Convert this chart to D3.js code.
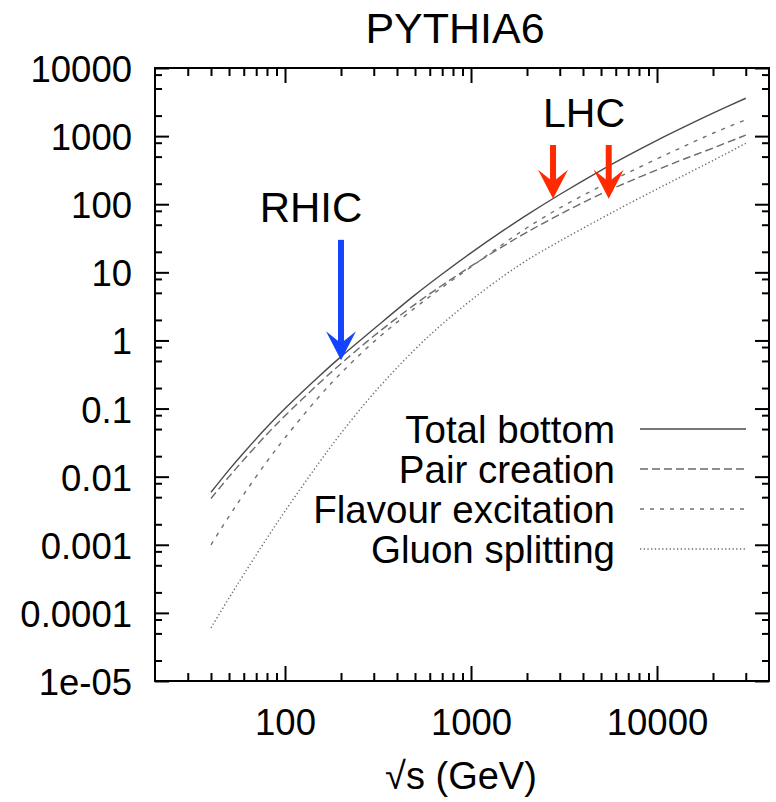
<!DOCTYPE html>
<html>
<head>
<meta charset="utf-8">
<script src="https://cdn.jsdelivr.net/npm/d3@7/dist/d3.min.js"></script>
<style>
  html, body { margin: 0; padding: 0; background: #fff; }
  svg { display: block; }
  text { font-family: "Liberation Sans", Arial, Helvetica, sans-serif; fill: #000; }
</style>
</head>
<body>
<svg id="chart" width="776" height="802"></svg>
<script>
// ---- data ----
const sqrtS = [40, 50, 60, 80, 100, 150, 200, 300, 500, 700, 1000, 1500, 2000, 3000, 5000, 7000, 10000, 14000, 20000, 30000];
const totalBottom = [0.0059, 0.0126, 0.0225, 0.0535, 0.100, 0.286, 0.579, 1.47, 4.66, 9.44, 19.3, 41.6, 69.8, 139, 315, 521, 865, 1361, 2168, 3597];
const pairCreation = [0.00479, 0.0100, 0.0177, 0.0421, 0.0785, 0.225, 0.456, 1.16, 3.39, 6.46, 12.3, 24.5, 38.9, 70.8, 142, 213, 320, 461, 668, 1035];
const flavourExcitation = [0.00100, 0.00261, 0.00551, 0.0167, 0.0372, 0.142, 0.332, 0.953, 3.01, 6.0, 12.0, 26.5, 45.1, 88.1, 185, 291, 462, 710, 1102, 1738];
const gluonSplitting = [0.0000604, 0.000165, 0.000367, 0.00125, 0.00312, 0.0151, 0.0433, 0.168, 0.741, 1.74, 3.89, 8.9, 15.1, 28.7, 61.8, 101, 167, 267, 438, 783];

const seriesNames = ["Total bottom", "Pair creation", "Flavour excitation", "Gluon splitting"];

const xTicks = [100, 1000, 10000];
const xTickLabels = ["100", "1000", "10000"];
const yTicks = [1e-5, 1e-4, 1e-3, 1e-2, 1e-1, 1, 10, 100, 1000, 10000];
const yTickLabels = ["1e-05", "0.0001", "0.001", "0.01", "0.1", "1", "10", "100", "1000", "10000"];

// annotations: collider energies (GeV) and arrow tip / tail heights in cross-section units
const rhicEnergies = [200];
const lhcEnergies = [2760, 5500];
const rhicArrow = { tip: 0.51, tail: 30 };
const lhcArrow = { tip: 120, tail: 740 };

const titleText = "PYTHIA6";
const xLabel = "\u221As (GeV)";

// ---- layout ----
const svg = d3.select("#chart");
const L = 155, R = 769, T = 68, B = 681;
const x = d3.scaleLog().domain([20, 40000]).range([L, R]);
const y = d3.scaleLog().domain([1e-5, 1e4]).range([B, T]);

// minor ticks
const xMinor = [];
[10, 100, 1000, 10000].forEach(d => { for (let k = 2; k <= 9; k++) { const v = d * k; if (v > 20 && v < 40000 && !xTicks.includes(v)) xMinor.push(v); } });
const yMinor = [];
yTicks.forEach(d => { [2, 5, 8].forEach(k => { const v = d * k; if (v < 1e4) yMinor.push(v); }); });

function styleAxis(g) {
  g.select(".domain").remove();
  g.selectAll("line").attr("stroke", "#000").attr("stroke-width", 2);
}
const fontFam = "'Liberation Sans', Arial, sans-serif";

// bottom
svg.append("g").attr("transform", `translate(0,${B})`)
  .call(d3.axisBottom(x).tickValues(xTicks).tickSize(-15).tickFormat((d, i) => xTickLabels[i]))
  .call(styleAxis)
  .call(g => g.selectAll("text").attr("y", 54).attr("dy", 0).attr("font-size", 36.5).style("font-family", fontFam).attr("fill", "#000"));
svg.append("g").attr("transform", `translate(0,${B})`)
  .call(d3.axisBottom(x).tickValues(xMinor).tickSize(-8).tickFormat(""))
  .call(styleAxis);
// top
svg.append("g").attr("transform", `translate(0,${T})`)
  .call(d3.axisTop(x).tickValues(xTicks).tickSize(-15).tickFormat(""))
  .call(styleAxis);
svg.append("g").attr("transform", `translate(0,${T})`)
  .call(d3.axisTop(x).tickValues(xMinor).tickSize(-8).tickFormat(""))
  .call(styleAxis);
// left
svg.append("g").attr("transform", `translate(${L},0)`)
  .call(d3.axisLeft(y).tickValues(yTicks).tickSize(-14).tickFormat((d, i) => yTickLabels[i]))
  .call(styleAxis)
  .call(g => g.selectAll("text").attr("x", -23).attr("dy", "0.37em").attr("font-size", 36.5).style("font-family", fontFam).attr("fill", "#000"));
svg.append("g").attr("transform", `translate(${L},0)`)
  .call(d3.axisLeft(y).tickValues(yMinor).tickSize(-7).tickFormat(""))
  .call(styleAxis);
// right
svg.append("g").attr("transform", `translate(${R},0)`)
  .call(d3.axisRight(y).tickValues(yTicks).tickSize(-14).tickFormat(""))
  .call(styleAxis);
svg.append("g").attr("transform", `translate(${R},0)`)
  .call(d3.axisRight(y).tickValues(yMinor).tickSize(-7).tickFormat(""))
  .call(styleAxis);

// frame
svg.append("rect").attr("x", L).attr("y", T).attr("width", R - L).attr("height", B - T)
  .attr("fill", "none").attr("stroke", "#000").attr("stroke-width", 2);

// ---- curves ----
const styles = [
  { color: "#4a4a4a", dash: null, w: 1.4 },
  { color: "#6a6a6a", dash: "8,4", w: 1.4 },
  { color: "#707070", dash: "4,6", w: 1.4 },
  { color: "#6a6a6a", dash: "1.3,2.4", w: 1.4 }
];
const allSeries = [totalBottom, pairCreation, flavourExcitation, gluonSplitting];
const line = d3.line().x(d => x(d[0])).y(d => y(d[1])).curve(d3.curveCatmullRom.alpha(0.5));
allSeries.forEach((vals, i) => {
  const pts = sqrtS.map((s, j) => [s, vals[j]]);
  svg.append("path").attr("d", line(pts)).attr("fill", "none")
    .attr("stroke", styles[i].color).attr("stroke-width", styles[i].w)
    .attr("stroke-dasharray", styles[i].dash);
});

// ---- legend ----
const legY0 = 429, legDy = 40;
seriesNames.forEach((name, i) => {
  const yy = legY0 + i * legDy;
  svg.append("text").attr("x", 615).attr("y", yy).attr("dy", "0.36em")
    .attr("text-anchor", "end").attr("font-size", 38.5).text(name);
  svg.append("line").attr("x1", 640).attr("x2", 746).attr("y1", yy).attr("y2", yy)
    .attr("stroke", styles[i].color).attr("stroke-width", styles[i].w)
    .attr("stroke-dasharray", styles[i].dash);
});

// ---- arrows ----
function arrow(xv, tipV, tailV, color) {
  const cx = x(xv), yt = y(tipV), y0 = y(tailV);
  const headLen = 29, notch = 17, halfW = 15, shaftHalf = 3;
  svg.append("rect").attr("x", cx - shaftHalf).attr("y", y0).attr("width", shaftHalf * 2)
    .attr("height", (yt - notch + 2) - y0).attr("fill", color);
  svg.append("path")
    .attr("d", `M${cx},${yt} L${cx - halfW},${yt - headLen} L${cx},${yt - notch} L${cx + halfW},${yt - headLen} Z`)
    .attr("fill", color);
}
rhicEnergies.forEach(e => arrow(e, rhicArrow.tip, rhicArrow.tail, "#1444ff"));
lhcEnergies.forEach(e => arrow(e, lhcArrow.tip, lhcArrow.tail, "#ff2a00"));

svg.append("text").attr("x", 311).attr("y", 222).attr("text-anchor", "middle").attr("font-size", 42).text("RHIC");
svg.append("text").attr("x", 584).attr("y", 127).attr("text-anchor", "middle").attr("font-size", 41).text("LHC");

// ---- title & axis label ----
svg.append("text").attr("x", 455).attr("y", 43).attr("text-anchor", "middle").attr("font-size", 43).text(titleText);
svg.append("text").attr("x", 461).attr("y", 789).attr("text-anchor", "middle").attr("font-size", 38).text(xLabel);
</script>
</body>
</html>
